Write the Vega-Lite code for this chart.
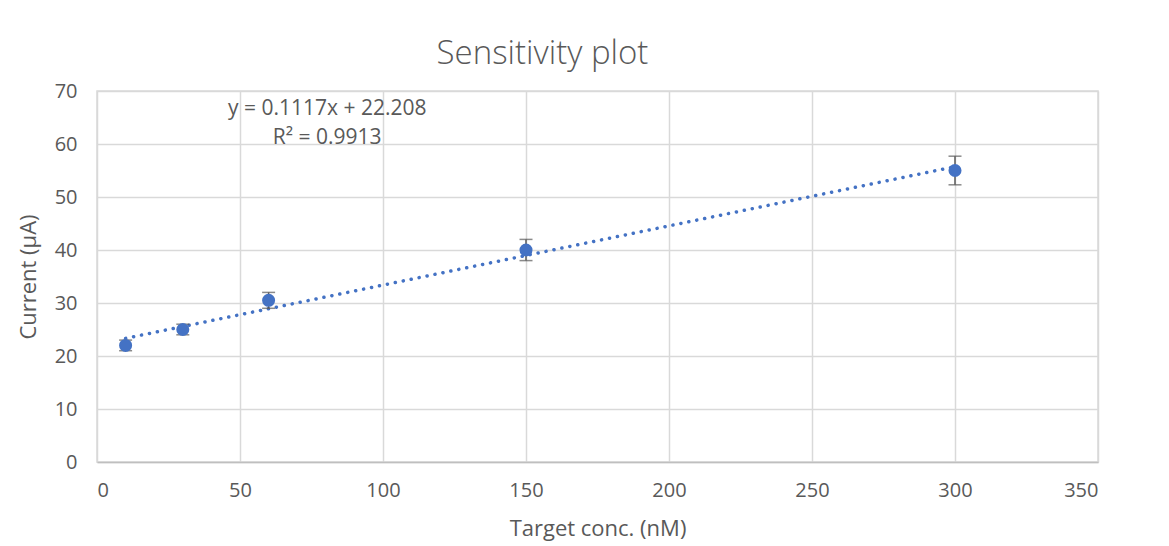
{
  "$schema": "https://vega.github.io/schema/vega-lite/v6.json",
  "width": 1001,
  "height": 371,
  "autosize": {"type": "none"},
  "padding": {"left": 97, "top": 91, "right": 71, "bottom": 84},
  "background": "white",
  "title": {
    "text": "Sensitivity plot",
    "font": "Open Sans",
    "fontWeight": 300,
    "fontSize": 33,
    "color": "#595959",
    "anchor": "middle",
    "offset": 10,
    "dx": -55
  },
  "config": {
    "view": {"stroke": "#d9d9d9", "strokeWidth": 1.5},
    "axis": {
      "labelFont": "Open Sans",
      "titleFont": "Open Sans",
      "labelFontSize": 20,
      "titleFontSize": 22,
      "labelColor": "#595959",
      "titleColor": "#595959",
      "titleFontWeight": "normal",
      "gridColor": "#d9d9d9",
      "gridWidth": 1.5,
      "ticks": false,
      "domainColor": "#bfbfbf",
      "domainWidth": 1.5
    }
  },
  "datasets": {
    "pts": [
      {"conc": 10, "current": 22, "lo": 21, "hi": 23},
      {"conc": 30, "current": 25, "lo": 24, "hi": 26},
      {"conc": 60, "current": 30.5, "lo": 29, "hi": 32},
      {"conc": 150, "current": 40, "lo": 38, "hi": 42},
      {"conc": 300, "current": 55, "lo": 52.3, "hi": 57.7}
    ],
    "trend": [
      {"conc": 10, "fit": 23.325},
      {"conc": 300, "fit": 55.718}
    ],
    "notes": [
      {"conc": 80.5, "current": 66.6, "label": "y = 0.1117x + 22.208"},
      {"conc": 80.5, "current": 61.2, "label": "R² = 0.9913"}
    ]
  },
  "layer": [
    {
      "data": {"name": "trend"},
      "mark": {"type": "line", "color": "#4472C4", "strokeWidth": 3.5, "strokeDash": [0.1, 8], "strokeCap": "round"},
      "encoding": {
        "x": {
          "field": "conc", "type": "quantitative",
          "scale": {"domain": [0, 350]},
          "axis": {"values": [0, 50, 100, 150, 200, 250, 300, 350], "title": "Target conc. (nM)", "labelPadding": 18, "titlePadding": 18}
        },
        "y": {
          "field": "fit", "type": "quantitative",
          "scale": {"domain": [0, 70]},
          "axis": {"values": [0, 10, 20, 30, 40, 50, 60, 70], "title": "Current (µA)", "labelPadding": 20, "titlePadding": 14, "domain": false}
        }
      }
    },
    {
      "data": {"name": "pts"},
      "mark": {"type": "rule", "color": "#595959", "strokeWidth": 1.5},
      "encoding": {
        "x": {"field": "conc", "type": "quantitative"},
        "y": {"field": "lo", "type": "quantitative"},
        "y2": {"field": "hi"}
      }
    },
    {
      "data": {"name": "pts"},
      "mark": {"type": "tick", "orient": "horizontal", "color": "#595959", "size": 13, "thickness": 1.5},
      "encoding": {
        "x": {"field": "conc", "type": "quantitative"},
        "y": {"field": "lo", "type": "quantitative"}
      }
    },
    {
      "data": {"name": "pts"},
      "mark": {"type": "tick", "orient": "horizontal", "color": "#595959", "size": 13, "thickness": 1.5},
      "encoding": {
        "x": {"field": "conc", "type": "quantitative"},
        "y": {"field": "hi", "type": "quantitative"}
      }
    },
    {
      "data": {"name": "pts"},
      "mark": {"type": "circle", "color": "#4472C4", "opacity": 1, "size": 170},
      "encoding": {
        "x": {"field": "conc", "type": "quantitative"},
        "y": {"field": "current", "type": "quantitative"}
      }
    },
    {
      "data": {"name": "notes"},
      "mark": {"type": "text", "font": "Open Sans", "fontSize": 21, "color": "#595959", "align": "center", "baseline": "middle"},
      "encoding": {
        "x": {"field": "conc", "type": "quantitative"},
        "y": {"field": "current", "type": "quantitative"},
        "text": {"field": "label"}
      }
    }
  ]
}
